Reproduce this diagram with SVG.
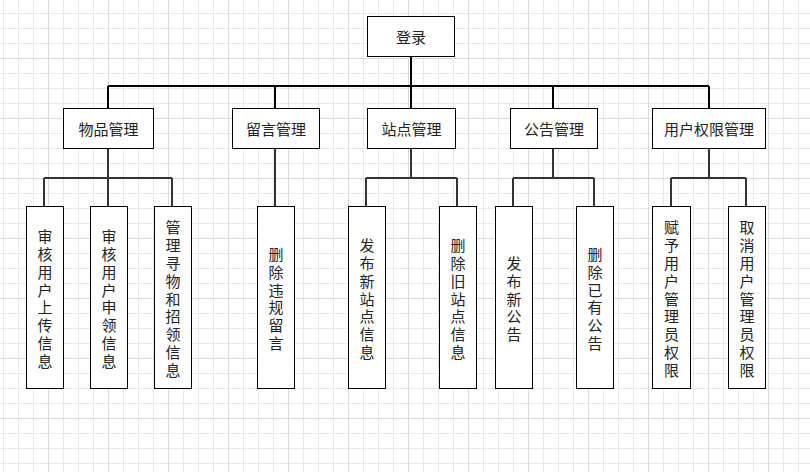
<svg xmlns="http://www.w3.org/2000/svg" width="810" height="472" viewBox="0 0 810 472">
<defs>
<pattern id="grid" patternUnits="userSpaceOnUse" x="3" y="13" width="60" height="60">
<path d="M0.5 0V60M15.5 0V60M30.5 0V60M0 0.5H60M0 15.5H60M0 30.5H60" stroke="#e8e8e8" stroke-width="1" fill="none"/>
<path d="M45.5 0V60M0 45.5H60" stroke="#d9d9d9" stroke-width="1" fill="none"/>
</pattern>
</defs>
<style>
.box{fill:#ffffff;stroke:#000000;stroke-width:1}
.t{font-family:"Microsoft YaHei","Noto Sans CJK SC",sans-serif;font-size:15px;fill:#222222;text-anchor:middle;dominant-baseline:central}
.c1{stroke:#000000;stroke-width:2;fill:none}
.c2{stroke:#333333;stroke-width:2;fill:none}
</style>
<rect width="810" height="472" fill="#ffffff"/>
<rect width="810" height="472" fill="url(#grid)"/>
<g id="connectors">
<path class="c1" d="M411 56V86M108 86H709M108 86V108M275 86V108M411 86V108M553 86V108M709 86V108"/>
<path class="c2" d="M108 148V178M44 178H172M44 178V207M108 178V207M172 178V207"/>
<path class="c2" d="M275 148V207"/>
<path class="c2" d="M411 148V178M366 178H457M366 178V207M457 178V207"/>
<path class="c2" d="M553 148V178M513 178H594M513 178V207M594 178V207"/>
<path class="c2" d="M709 148V178M671 178H746M671 178V207M746 178V207"/>
</g>
<g id="login"><rect class="box" x="367.5" y="16.5" width="87" height="40"/><text class="t" x="411" y="36.5">登录</text></g>
<g id="wupin"><rect class="box" x="63.5" y="108.5" width="90" height="40"/><text class="t" x="108.5" y="128.5">物品管理</text></g>
<g id="liuyan"><rect class="box" x="232.5" y="108.5" width="87" height="40"/><text class="t" x="276" y="128.5">留言管理</text></g>
<g id="zhandian"><rect class="box" x="367.5" y="108.5" width="88" height="40"/><text class="t" x="411.5" y="128.5">站点管理</text></g>
<g id="gonggao"><rect class="box" x="510.5" y="108.5" width="87" height="40"/><text class="t" x="554" y="128.5">公告管理</text></g>
<g id="yonghu"><rect class="box" x="652.5" y="108.5" width="113" height="40"/><text class="t" x="709" y="128.5">用户权限管理</text></g>

<g id="leaf1"><rect class="box" x="26.5" y="206.5" width="37" height="182"/>
<text class="t" x="45"><tspan x="45" y="235.2">审</tspan><tspan x="45" y="253">核</tspan><tspan x="45" y="270.8">用</tspan><tspan x="45" y="288.6">户</tspan><tspan x="45" y="306.4">上</tspan><tspan x="45" y="324.2">传</tspan><tspan x="45" y="342">信</tspan><tspan x="45" y="359.8">息</tspan></text></g>
<g id="leaf2"><rect class="box" x="90.5" y="206.5" width="37" height="182"/>
<text class="t" x="109"><tspan x="109" y="235.2">审</tspan><tspan x="109" y="253">核</tspan><tspan x="109" y="270.8">用</tspan><tspan x="109" y="288.6">户</tspan><tspan x="109" y="306.4">申</tspan><tspan x="109" y="324.2">领</tspan><tspan x="109" y="342">信</tspan><tspan x="109" y="359.8">息</tspan></text></g>
<g id="leaf3"><rect class="box" x="154.5" y="206.5" width="37" height="182"/>
<text class="t" x="173"><tspan x="173" y="226.3">管</tspan><tspan x="173" y="244.1">理</tspan><tspan x="173" y="261.9">寻</tspan><tspan x="173" y="279.7">物</tspan><tspan x="173" y="297.5">和</tspan><tspan x="173" y="315.3">招</tspan><tspan x="173" y="333.1">领</tspan><tspan x="173" y="350.9">信</tspan><tspan x="173" y="368.7">息</tspan></text></g>
<g id="leaf4"><rect class="box" x="257.5" y="206.5" width="37" height="182"/>
<text class="t" x="276"><tspan x="276" y="253">删</tspan><tspan x="276" y="270.8">除</tspan><tspan x="276" y="288.6">违</tspan><tspan x="276" y="306.4">规</tspan><tspan x="276" y="324.2">留</tspan><tspan x="276" y="342">言</tspan></text></g>
<g id="leaf5"><rect class="box" x="348.5" y="206.5" width="37" height="182"/>
<text class="t" x="367"><tspan x="367" y="244.1">发</tspan><tspan x="367" y="261.9">布</tspan><tspan x="367" y="279.7">新</tspan><tspan x="367" y="297.5">站</tspan><tspan x="367" y="315.3">点</tspan><tspan x="367" y="333.1">信</tspan><tspan x="367" y="350.9">息</tspan></text></g>
<g id="leaf6"><rect class="box" x="439.5" y="206.5" width="37" height="182"/>
<text class="t" x="458"><tspan x="458" y="244.1">删</tspan><tspan x="458" y="261.9">除</tspan><tspan x="458" y="279.7">旧</tspan><tspan x="458" y="297.5">站</tspan><tspan x="458" y="315.3">点</tspan><tspan x="458" y="333.1">信</tspan><tspan x="458" y="350.9">息</tspan></text></g>
<g id="leaf7"><rect class="box" x="495.5" y="206.5" width="37" height="182"/>
<text class="t" x="514"><tspan x="514" y="261.9">发</tspan><tspan x="514" y="279.7">布</tspan><tspan x="514" y="297.5">新</tspan><tspan x="514" y="315.3">公</tspan><tspan x="514" y="333.1">告</tspan></text></g>
<g id="leaf8"><rect class="box" x="576.5" y="206.5" width="37" height="182"/>
<text class="t" x="595"><tspan x="595" y="253">删</tspan><tspan x="595" y="270.8">除</tspan><tspan x="595" y="288.6">已</tspan><tspan x="595" y="306.4">有</tspan><tspan x="595" y="324.2">公</tspan><tspan x="595" y="342">告</tspan></text></g>
<g id="leaf9"><rect class="box" x="652.5" y="206.5" width="38" height="182"/>
<text class="t" x="671.5"><tspan x="671.5" y="226.3">赋</tspan><tspan x="671.5" y="244.1">予</tspan><tspan x="671.5" y="261.9">用</tspan><tspan x="671.5" y="279.7">户</tspan><tspan x="671.5" y="297.5">管</tspan><tspan x="671.5" y="315.3">理</tspan><tspan x="671.5" y="333.1">员</tspan><tspan x="671.5" y="350.9">权</tspan><tspan x="671.5" y="368.7">限</tspan></text></g>
<g id="leaf10"><rect class="box" x="728.5" y="206.5" width="37" height="182"/>
<text class="t" x="747"><tspan x="747" y="226.3">取</tspan><tspan x="747" y="244.1">消</tspan><tspan x="747" y="261.9">用</tspan><tspan x="747" y="279.7">户</tspan><tspan x="747" y="297.5">管</tspan><tspan x="747" y="315.3">理</tspan><tspan x="747" y="333.1">员</tspan><tspan x="747" y="350.9">权</tspan><tspan x="747" y="368.7">限</tspan></text></g>
</svg>
